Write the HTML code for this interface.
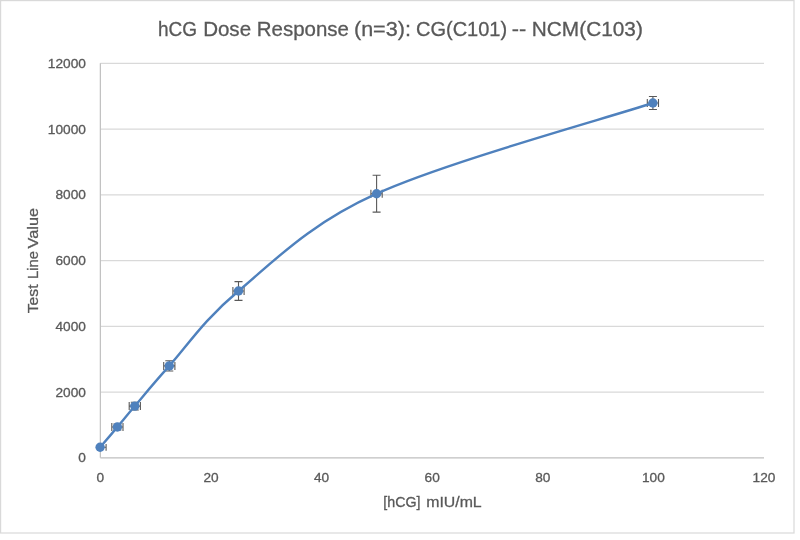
<!DOCTYPE html>
<html lang="en">
<head>
<meta charset="utf-8">
<title>hCG Dose Response</title>
<style>
html,body{margin:0;padding:0;background:#fff;width:800px;height:540px;overflow:hidden}
svg{display:block}
text{font-family:"Liberation Sans",Arial,sans-serif;fill:#595959;stroke:#595959;stroke-width:0.3px}
.tick{font-size:13px}
.ttl{font-size:20.6px}
.axt{font-size:15px}
</style>
</head>
<body>
<svg width="800" height="540" viewBox="0 0 800 540">
<rect x="0" y="0" width="800" height="540" fill="#fff"/>
<rect x="0.6" y="0.6" width="793.4" height="532.4" fill="#fff" stroke="#d9d9d9" stroke-width="1.2"/>
<g stroke="#d9d9d9" stroke-width="1.2" fill="none">
<line x1="100.35" y1="392.05" x2="764.0" y2="392.05"/>
<line x1="100.35" y1="326.30" x2="764.0" y2="326.30"/>
<line x1="100.35" y1="260.55" x2="764.0" y2="260.55"/>
<line x1="100.35" y1="194.80" x2="764.0" y2="194.80"/>
<line x1="100.35" y1="129.05" x2="764.0" y2="129.05"/>
<line x1="100.35" y1="63.30" x2="764.0" y2="63.30"/>
</g>
<g stroke="#bfbfbf" stroke-width="1.2" fill="none">
<line x1="100.35" y1="63.30" x2="100.35" y2="457.80"/>
<line x1="100.35" y1="457.80" x2="764.0" y2="457.80"/>
</g>
<g stroke="#595959" stroke-width="1.1" fill="none">
<path d="M100.1,447.3H106.1M106.1,443.9v6.8"/>
<path d="M117.4,424.0V430.0M113.4,424.0h8M113.4,430.0h8"/>
<path d="M111.8,427.0H123.0M111.8,423.0v8M123.0,423.0v8"/>
<path d="M134.8,402.2V410.0M130.8,402.2h8M130.8,410.0h8"/>
<path d="M129.2,406.1H140.4M129.2,402.1v8M140.4,402.1v8"/>
<path d="M169.3,360.8V371.0M165.3,360.8h8M165.3,371.0h8"/>
<path d="M163.7,365.9H174.9M163.7,361.9v8M174.9,361.9v8"/>
<path d="M238.5,281.6V300.4M234.5,281.6h8M234.5,300.4h8"/>
<path d="M232.9,291.0H244.1M232.9,287.0v8M244.1,287.0v8"/>
<path d="M376.6,175.2V212.1M372.6,175.2h8M372.6,212.1h8"/>
<path d="M370.9,193.7H382.2M370.9,189.7v8M382.2,189.7v8"/>
<path d="M652.9,96.5V109.5M648.9,96.5h8M648.9,109.5h8"/>
<path d="M647.3,103.0H658.5M647.3,99.0v8M658.5,99.0v8"/>
</g>
<path d="M100.1,447.3 C103.0,443.9 111.6,433.9 117.4,427.0 C123.2,420.1 126.2,416.3 134.8,406.1 C143.5,395.9 152.0,385.1 169.3,365.9 C186.6,346.7 204.0,319.7 238.5,291.0 C273.0,262.3 307.5,225.0 376.6,193.7 C445.6,162.3 606.8,118.1 652.9,103.0" fill="none" stroke="#4f81bd" stroke-width="2.4" stroke-linecap="round" stroke-linejoin="round"/>
<g fill="#4f81bd">
<circle cx="100.1" cy="447.3" r="4.7"/>
<circle cx="117.4" cy="427.0" r="4.7"/>
<circle cx="134.8" cy="406.1" r="4.7"/>
<circle cx="169.3" cy="365.9" r="4.7"/>
<circle cx="238.5" cy="291.0" r="4.7"/>
<circle cx="376.6" cy="193.7" r="4.7"/>
<circle cx="652.9" cy="103.0" r="4.7"/>
</g>
<g class="tick" text-anchor="end">
<text x="85.9" y="462.4" textLength="7.6" lengthAdjust="spacingAndGlyphs">0</text>
<text x="85.9" y="396.7" textLength="30.4" lengthAdjust="spacingAndGlyphs">2000</text>
<text x="85.9" y="330.9" textLength="30.4" lengthAdjust="spacingAndGlyphs">4000</text>
<text x="85.9" y="265.2" textLength="30.4" lengthAdjust="spacingAndGlyphs">6000</text>
<text x="85.9" y="199.4" textLength="30.4" lengthAdjust="spacingAndGlyphs">8000</text>
<text x="85.9" y="133.7" textLength="38.1" lengthAdjust="spacingAndGlyphs">10000</text>
<text x="85.9" y="67.9" textLength="38.1" lengthAdjust="spacingAndGlyphs">12000</text>
</g>
<g class="tick" text-anchor="middle">
<text x="100.3" y="482" textLength="7.6" lengthAdjust="spacingAndGlyphs">0</text>
<text x="211.0" y="482" textLength="15.2" lengthAdjust="spacingAndGlyphs">20</text>
<text x="321.6" y="482" textLength="15.2" lengthAdjust="spacingAndGlyphs">40</text>
<text x="432.2" y="482" textLength="15.2" lengthAdjust="spacingAndGlyphs">60</text>
<text x="542.8" y="482" textLength="15.2" lengthAdjust="spacingAndGlyphs">80</text>
<text x="653.4" y="482" textLength="22.8" lengthAdjust="spacingAndGlyphs">100</text>
<text x="764.0" y="482" textLength="22.8" lengthAdjust="spacingAndGlyphs">120</text>
</g>
<text class="ttl" y="35.6"><tspan x="158.00" textLength="39.11" lengthAdjust="spacingAndGlyphs">hCG</tspan> <tspan x="203.13" textLength="47.93" lengthAdjust="spacingAndGlyphs">Dose</tspan> <tspan x="256.76" textLength="92.16" lengthAdjust="spacingAndGlyphs">Response</tspan> <tspan x="353.96" textLength="56.93" lengthAdjust="spacingAndGlyphs">(n=3):</tspan> <tspan x="415.98" textLength="91.16" lengthAdjust="spacingAndGlyphs">CG(C101)</tspan> <tspan x="511.81" textLength="14.45" lengthAdjust="spacingAndGlyphs">--</tspan> <tspan x="531.81" textLength="111.03" lengthAdjust="spacingAndGlyphs">NCM(C103)</tspan></text>
<text class="axt" y="506.8"><tspan x="383.32" textLength="37.21" lengthAdjust="spacingAndGlyphs">[hCG]</tspan> <tspan x="426.20" textLength="55.50" lengthAdjust="spacingAndGlyphs">mIU/mL</tspan></text>
<text class="axt" transform="translate(38.1,260.8) rotate(-90)" y="0"><tspan x="-52.45" textLength="28.84" lengthAdjust="spacingAndGlyphs">Test</tspan> <tspan x="-18.22" textLength="27.97" lengthAdjust="spacingAndGlyphs">Line</tspan> <tspan x="12.41" textLength="40.46" lengthAdjust="spacingAndGlyphs">Value</tspan></text>
</svg>
</body>
</html>
